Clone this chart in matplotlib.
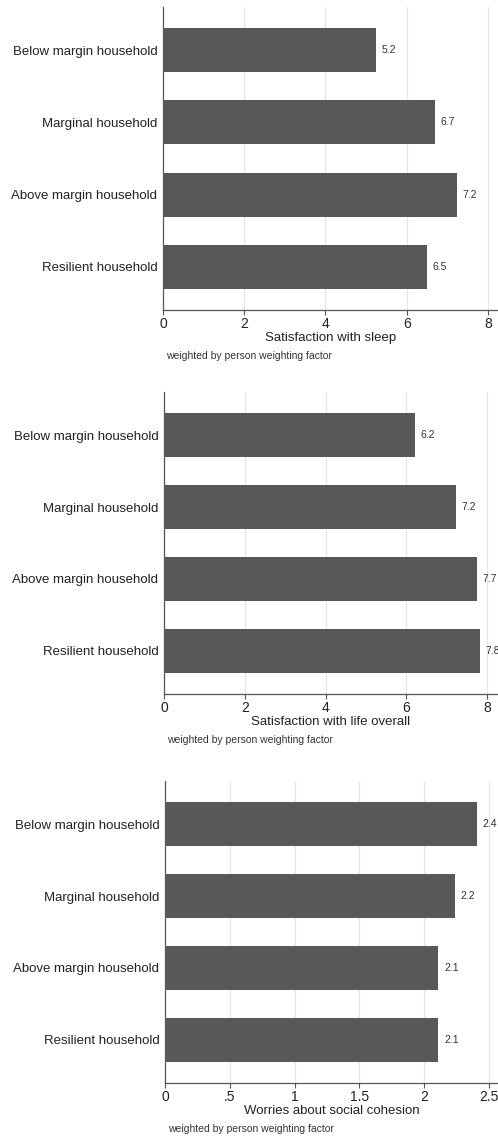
import matplotlib
matplotlib.use("Agg")
from matplotlib import pyplot as plt

plt.rcParams["font.family"] = ["Liberation Sans", "DejaVu Sans"]

categories = [
    "Below margin household",
    "Marginal household",
    "Above margin household",
    "Resilient household",
]

sleep = [5.24, 6.69, 7.23, 6.51]
life = [6.21, 7.23, 7.74, 7.82]
cohesion = [2.41, 2.24, 2.11, 2.11]

sleep_ticks = [0, 2, 4, 6, 8]
sleep_ticklabels = ["0", "2", "4", "6", "8"]
life_ticks = [0, 2, 4, 6, 8]
life_ticklabels = ["0", "2", "4", "6", "8"]
cohesion_ticks = [0, 0.5, 1, 1.5, 2, 2.5]
cohesion_ticklabels = ["0", ".5", "1", "1.5", "2", "2.5"]

titles = [
    "Satisfaction with sleep",
    "Satisfaction with life overall",
    "Worries about social cohesion",
]
note = "weighted by person weighting factor"

bar_color = "#58585a"
axis_color = "#555555"
grid_color = "#e6e6e6"

W, H = 498, 1138
fig = plt.figure(figsize=(W / 100, H / 100), dpi=100)

# panel boxes in pixels: (left, top, bottom, xmax)
panels = [
    (sleep, sleep_ticks, sleep_ticklabels, titles[0], 163, 7, 310, 8.25),
    (life, life_ticks, life_ticklabels, titles[1], 164, 392, 694, 8.27),
    (cohesion, cohesion_ticks, cohesion_ticklabels, titles[2], 165, 781, 1083, 2.57),
]

for vals, ticks, ticklabels, title, left, top, bottom, xmax in panels:
    ax = fig.add_axes([left / W, 1 - bottom / H, (W - left) / W, (bottom - top) / H])
    y = list(range(len(categories)))
    ax.barh(y, vals, height=0.61, color=bar_color, zorder=3)
    for yi, v in zip(y, vals):
        ax.annotate(f"{v:.1f}", (v, yi), xytext=(4, 0), textcoords="offset points",
                    va="center", ha="left", fontsize=7.5, color="#333333",
                    annotation_clip=False)
    ax.set_yticks(y)
    ax.set_yticklabels(categories, fontsize=9.5, color="#222222")
    ax.set_ylim(3.6, -0.6)
    ax.set_xlim(0, xmax)
    ax.set_xticks(ticks)
    ax.set_xticklabels(ticklabels, fontsize=10, color="#222222")
    ax.tick_params(axis="y", length=0, pad=4)
    ax.tick_params(axis="x", length=3.5, width=0.8, color=axis_color, pad=1.5)
    for t in ticks[1:]:
        ax.axvline(t, color=grid_color, lw=0.9, zorder=1)
    for s in ["top", "right"]:
        ax.spines[s].set_visible(False)
    for s in ["left", "bottom"]:
        ax.spines[s].set_color(axis_color)
        ax.spines[s].set_linewidth(0.9)
    ax.set_xlabel(title, fontsize=9.5, color="#222222", labelpad=1)
    fig.text((left + 3) / W, 1 - (bottom + 46) / H, note, fontsize=7.5,
             color="#333333", va="center", ha="left")

fig.savefig("out.png", dpi=100)
